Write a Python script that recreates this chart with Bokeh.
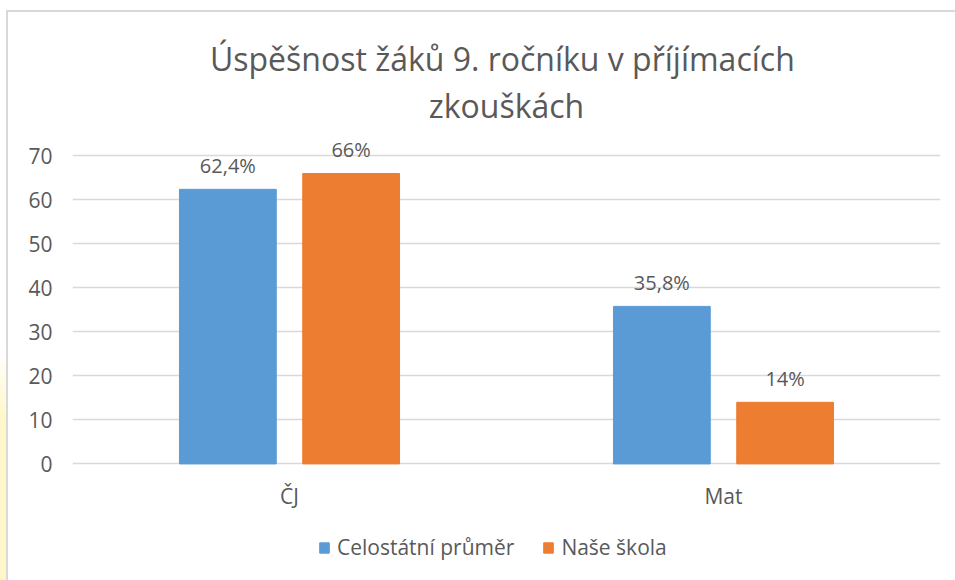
from bokeh.plotting import figure
from bokeh.models import ColumnDataSource, FactorRange, Legend, LegendItem, Title, FixedTicker
from bokeh.transform import dodge
from bokeh.core.properties import value
from bokeh.embed import file_html
from bokeh.resources import INLINE

categories = ["ČJ", "Mat"]
series_names = ["Celostátní průměr", "Naše škola"]
celostatni = [62.4, 35.8]
nase_skola = [66, 14]
y_ticks = [0, 10, 20, 30, 40, 50, 60, 70]
title_lines = ["Úspěšnost  žáků 9. ročníku v příjímacích", "zkouškách"]

def fmt(v):
    return ("%g" % v).replace(".", ",") + "%"

src = ColumnDataSource(dict(
    cat=categories,
    a=celostatni,
    b=nase_skola,
    la=[fmt(v) for v in celostatni],
    lb=[fmt(v) for v in nase_skola],
    base=[0] * len(categories),
))

FONT = "Open Sans"
TXT = "#595959"
BLUE = "#5B9BD5"
ORANGE = "#ED7D31"
GRID = "#D9D9D9"

# layout: 70 units of value span 308 px; the frame extends below zero to hold
# the category labels and the legend
PX_PER_UNIT = 308 / 70
FRAME_H = 451
Y_TOP = 76
Y_BOTTOM = Y_TOP - FRAME_H / PX_PER_UNIT

p = figure(frame_width=868, frame_height=FRAME_H,
           x_range=FactorRange(*categories, range_padding=0),
           y_range=(Y_BOTTOM, Y_TOP), output_backend="svg", toolbar_location=None,
           min_border_left=72, min_border_right=15, min_border_top=129, min_border_bottom=0)
p.title = None

off = 0.142
w = 0.223
ra = p.vbar(x=dodge("cat", -off, range=p.x_range), top="a", width=w, source=src,
            fill_color=BLUE, line_color=BLUE)
rb = p.vbar(x=dodge("cat", off, range=p.x_range), top="b", width=w, source=src,
            fill_color=ORANGE, line_color=ORANGE)

p.text(x=dodge("cat", -off, range=p.x_range), y="a", text="la", source=src,
       text_align="center", text_baseline="middle", y_offset=-24,
       text_font=value(FONT), text_font_size="20px", text_color=TXT)
p.text(x=dodge("cat", off, range=p.x_range), y="b", text="lb", source=src,
       text_align="center", text_baseline="middle", y_offset=-24,
       text_font=value(FONT), text_font_size="20px", text_color=TXT)

# category labels under the baseline
p.text(x="cat", y="base", text="cat", source=src,
       text_align="center", text_baseline="middle", y_offset=32,
       text_font=value(FONT), text_font_size="21px", text_color=TXT)

p.xaxis.visible = False
p.yaxis.ticker = FixedTicker(ticks=y_ticks)
ax = p.yaxis[0]
ax.axis_line_color = None
ax.major_tick_line_color = None
ax.minor_tick_line_color = None
ax.major_tick_out = 0
ax.major_label_text_font = FONT
ax.major_label_text_font_size = "21px"
ax.major_label_text_color = TXT
ax.major_label_standoff = 20

p.xgrid.grid_line_color = None
p.ygrid.ticker = FixedTicker(ticks=y_ticks)
p.ygrid.grid_line_color = GRID
p.ygrid.grid_line_width = 1.6
p.outline_line_color = None

legend = Legend(items=[LegendItem(label=series_names[0], renderers=[ra]),
                       LegendItem(label=series_names[1], renderers=[rb])],
                orientation="horizontal", location=(246, 19),
                label_text_font=FONT, label_text_font_size="21px", label_text_color=TXT,
                glyph_width=12, glyph_height=13, spacing=28, label_standoff=7,
                padding=0, margin=0,
                border_line_color=None, background_fill_alpha=0)
p.add_layout(legend, "center")

p.add_layout(Title(text=title_lines[1], align="center", text_font=FONT, text_font_size="32px",
                   text_font_style="normal", text_color=TXT, standoff=5, offset=-24), "above")
p.add_layout(Title(text=title_lines[0], align="center", text_font=FONT, text_font_size="32px",
                   text_font_style="normal", text_color=TXT, standoff=0, offset=-24), "above")

p.border_fill_color = None
p.styles = {
    "background-image": ("linear-gradient(#D9D9D9,#D9D9D9), linear-gradient(#D9D9D9,#D9D9D9), "
                         "linear-gradient(to bottom, rgba(255,247,200,0), #FFF7C8 70px)"),
    "background-size": "2px 600px, 1000px 2px, 6px 230px",
    "background-position": "6px 10px, 6px 10px, 0px 350px",
    "background-repeat": "no-repeat",
}

open("out.html", "w").write(file_html(p, INLINE))
